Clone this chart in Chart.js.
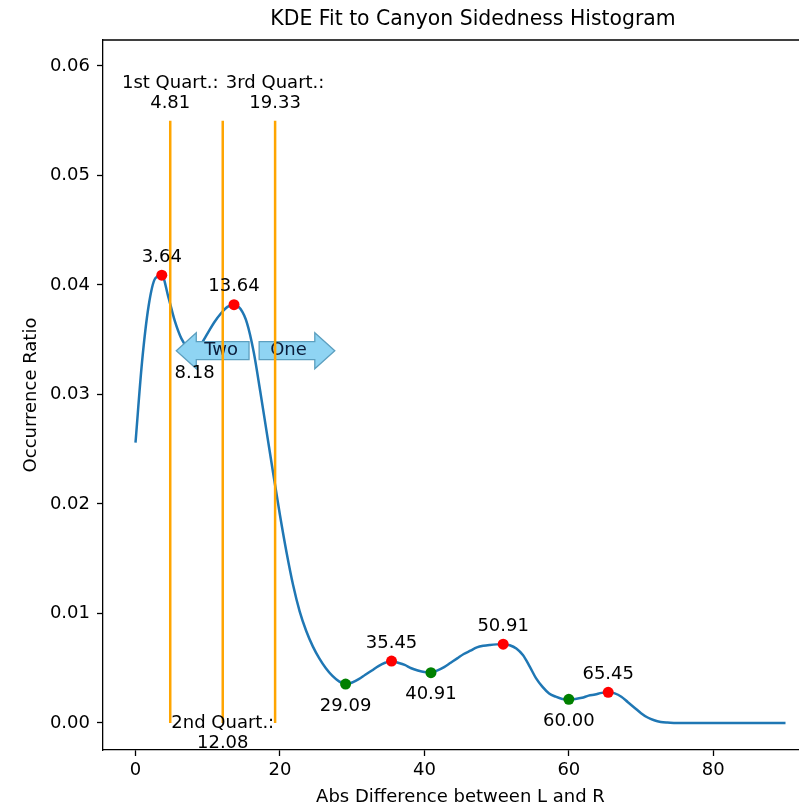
<!DOCTYPE html>
<html>
<head>
<meta charset="utf-8">
<script src="https://cdn.jsdelivr.net/npm/chart.js@4.4.0/dist/chart.umd.min.js"></script>
<style>
  html, body { margin: 0; padding: 0; background: #fff; overflow: hidden; }
  #wrap { width: 840px; height: 806px; }
</style>
</head>
<body>
<div id="wrap"><canvas id="c" width="840" height="806"></canvas></div>
<script>
// KDE curve sampled on a 100-point grid over 0..90
const curveX = [
  0.00, 0.91, 1.82, 2.73, 3.64, 4.55, 5.45, 6.36, 7.27, 8.18,
  9.09, 10.00, 10.91, 11.82, 12.73, 13.64, 14.55, 15.45, 16.36, 17.27,
  18.18, 19.09, 20.00, 20.91, 21.82, 22.73, 23.64, 24.55, 25.45, 26.36,
  27.27, 28.18, 29.09, 30.00, 30.91, 31.82, 32.73, 33.64, 34.55, 35.45,
  36.36, 37.27, 38.18, 39.09, 40.00, 40.91, 41.82, 42.73, 43.64, 44.55,
  45.45, 46.36, 47.27, 48.18, 49.09, 50.00, 50.91, 51.82, 52.73, 53.64,
  54.55, 55.45, 56.36, 57.27, 58.18, 59.09, 60.00, 60.91, 61.82, 62.73,
  63.64, 64.55, 65.45, 66.36, 67.27, 68.18, 69.09, 70.00, 70.91, 71.82,
  72.73, 73.64, 74.55, 75.45, 76.36, 77.27, 78.18, 79.09, 80.00, 80.91,
  81.82, 82.73, 83.64, 84.55, 85.45, 86.36, 87.27, 88.18, 89.09, 90.00
];
const curveY = [
  0.0256, 0.0330, 0.0381, 0.0406, 0.0409, 0.0389, 0.0367, 0.0351, 0.0342, 0.0339,
  0.0346, 0.0356, 0.0366, 0.0374, 0.0380, 0.0382, 0.0378, 0.0365, 0.0339, 0.0303,
  0.0265, 0.0227, 0.0190, 0.0156, 0.0126, 0.0102, 0.0084, 0.0070, 0.0059, 0.0050,
  0.0043, 0.0038, 0.00356, 0.0037, 0.0040, 0.0044, 0.0048, 0.0052, 0.0055, 0.00566,
  0.0055, 0.0053, 0.0050, 0.0048, 0.00465, 0.0046, 0.0048, 0.0051, 0.0055, 0.0059,
  0.0063, 0.0066, 0.0069, 0.00705, 0.00713, 0.00718, 0.0072, 0.0071, 0.0068, 0.0062,
  0.0052, 0.0041, 0.0033, 0.0027, 0.0024, 0.0022, 0.00216, 0.0022, 0.0023, 0.0025,
  0.0026, 0.00275, 0.0028, 0.0027, 0.0024, 0.0019, 0.0014, 0.0009, 0.0005, 0.00025,
  0.0001, 0.00004, 0.00001, 0, 0, 0, 0, 0, 0, 0,
  0, 0, 0, 0, 0, 0, 0, 0, 0, 0
];

// Local extrema of the curve
const peakX = [3.64, 13.64, 35.45, 50.91, 65.45];
const troughX = [8.18, 29.09, 40.91, 60.00];

// Quartiles of the sidedness distribution
const quartileX = [4.81, 12.08, 19.33];
const quartileNames = ['1st Quart.:', '2nd Quart.:', '3rd Quart.:'];
const quartileTop = 0.055;

// Axis ticks
const xTicks = [0, 20, 40, 60, 80];
const yTicks = [0.00, 0.01, 0.02, 0.03, 0.04, 0.05, 0.06];

// Direction callouts
const callouts = [
  { text: 'Two', x: 11.86, y: 0.0340, dir: 'left' },
  { text: 'One', x: 21.18, y: 0.0340, dir: 'right' }
];

const FONT = '"DejaVu Sans", "Liberation Sans", sans-serif';
const FS = 18;

function yAt(x) {
  let best = 0;
  for (let i = 1; i < curveX.length; i++) {
    if (Math.abs(curveX[i] - x) < Math.abs(curveX[best] - x)) best = i;
  }
  return curveY[best];
}

const curvePts = curveX.map((x, i) => ({ x: x, y: curveY[i] }));
const peakPts = peakX.map(x => ({ x: x, y: yAt(x) }));
const troughPts = troughX.map(x => ({ x: x, y: yAt(x) }));

const quartileSets = quartileX.map(q => ({
  type: 'line',
  data: [{ x: q, y: 0 }, { x: q, y: quartileTop }],
  borderColor: '#ffa500',
  borderWidth: 2.5,
  pointRadius: 0,
  order: 1
}));

function drawCallout(ctx, cx, cy, text, dir) {
  ctx.save();
  ctx.font = FS + 'px ' + FONT;
  const w = ctx.measureText(text).width;
  const tl = cx - w / 2, tr = cx + w / 2;
  const bh = 9, hh = 18, headLen = 20, headGap = 8, tailPad = 11;
  ctx.beginPath();
  if (dir === 'left') {
    const base = tl - headGap, tip = base - headLen, tail = tr + tailPad;
    ctx.moveTo(tip, cy);
    ctx.lineTo(base, cy - hh);
    ctx.lineTo(base, cy - bh);
    ctx.lineTo(tail, cy - bh);
    ctx.lineTo(tail, cy + bh);
    ctx.lineTo(base, cy + bh);
    ctx.lineTo(base, cy + hh);
  } else {
    const base = tr + headGap, tip = base + headLen, tail = tl - tailPad;
    ctx.moveTo(tip, cy);
    ctx.lineTo(base, cy - hh);
    ctx.lineTo(base, cy - bh);
    ctx.lineTo(tail, cy - bh);
    ctx.lineTo(tail, cy + bh);
    ctx.lineTo(base, cy + bh);
    ctx.lineTo(base, cy + hh);
  }
  ctx.closePath();
  ctx.fillStyle = '#8fd4f3';
  ctx.fill();
  ctx.lineWidth = 1.3;
  ctx.strokeStyle = '#5c9fbf';
  ctx.stroke();
  ctx.fillStyle = '#0b1d3a';
  ctx.textAlign = 'center';
  ctx.textBaseline = 'middle';
  ctx.fillText(text, cx, cy);
  ctx.restore();
}

const decor = {
  id: 'decor',
  afterDatasetDraw(chart, args) {
    // callouts cover the curve and markers; the quartile lines stay on top
    if (args.index !== 2) return;
    const ctx = chart.ctx, xs = chart.scales.x, ys = chart.scales.y;
    callouts.forEach(c => drawCallout(ctx, xs.getPixelForValue(c.x), ys.getPixelForValue(c.y), c.text, c.dir));
  },
  afterDatasetsDraw(chart) {
    const ctx = chart.ctx, xs = chart.scales.x, ys = chart.scales.y;
    ctx.save();
    ctx.font = FS + 'px ' + FONT;
    ctx.fillStyle = '#000';
    ctx.textAlign = 'center';
    ctx.textBaseline = 'middle';
    peakPts.forEach(p => {
      ctx.fillText(p.x.toFixed(2), xs.getPixelForValue(p.x), ys.getPixelForValue(p.y) - 18);
    });
    troughPts.forEach(p => {
      ctx.fillText(p.x.toFixed(2), xs.getPixelForValue(p.x), ys.getPixelForValue(p.y) + 22);
    });
    quartileX.forEach((q, i) => {
      const px = xs.getPixelForValue(q);
      if (i === 1) {
        const y0 = ys.getPixelForValue(0);
        ctx.fillText(quartileNames[i], px, y0);
        ctx.fillText(q.toFixed(2), px, y0 + 20);
      } else {
        const yt = ys.getPixelForValue(quartileTop);
        ctx.fillText(quartileNames[i], px, yt - 37.5);
        ctx.fillText(q.toFixed(2), px, yt - 17.5);
      }
    });
    ctx.restore();
  },
  afterDraw(chart) {
    const ctx = chart.ctx, a = chart.chartArea;
    ctx.save();
    ctx.strokeStyle = '#000';
    ctx.lineWidth = 1.3;
    ctx.beginPath();
    ctx.moveTo(a.left, a.top);
    ctx.lineTo(a.right, a.top);
    ctx.lineTo(a.right, a.bottom);
    ctx.stroke();
    ctx.fillStyle = '#000';
    ctx.textAlign = 'center';
    ctx.textBaseline = 'middle';
    ctx.font = '20.4px ' + FONT;
    ctx.fillText('KDE Fit to Canyon Sidedness Histogram', 473, 20);
    ctx.font = FS + 'px ' + FONT;
    ctx.fillText('Abs Difference between L and R', (a.left + a.right) / 2, 797);
    ctx.translate(31, (a.top + a.bottom) / 2);
    ctx.rotate(-Math.PI / 2);
    ctx.fillText('Occurrence Ratio', 0, 0);
    ctx.restore();
  }
};

new Chart(document.getElementById('c'), {
  type: 'line',
  data: {
    datasets: [
      {
        type: 'line',
        data: curvePts,
        borderColor: '#1f77b4',
        borderWidth: 2.5,
        pointRadius: 0,
        cubicInterpolationMode: 'monotone',
        order: 4
      },
      {
        type: 'scatter',
        data: peakPts,
        backgroundColor: '#ff0000',
        borderWidth: 0,
        pointRadius: 5.5,
        order: 3
      },
      {
        type: 'scatter',
        data: troughPts,
        backgroundColor: '#008000',
        borderWidth: 0,
        pointRadius: 5.5,
        order: 2
      },
      ...quartileSets
    ]
  },
  options: {
    responsive: false,
    animation: false,
    devicePixelRatio: 1,
    layout: { padding: { left: 0, top: 40, right: 22, bottom: 0 } },
    plugins: { legend: { display: false }, tooltip: { enabled: false }, title: { display: false } },
    scales: {
      x: {
        type: 'linear',
        min: -4.5,
        max: 94.5,
        afterFit(s) { s.height = 56; },
        afterBuildTicks(s) { s.ticks = xTicks.map(v => ({ value: v })); },
        grid: { drawOnChartArea: false, drawTicks: true, tickLength: 6, tickColor: '#000', tickWidth: 1.3 },
        border: { display: true, color: '#000', width: 1.3 },
        ticks: { color: '#000', padding: 4, maxRotation: 0, autoSkip: false, font: { family: FONT, size: FS }, callback: v => String(v) }
      },
      y: {
        type: 'linear',
        min: -0.002466,
        max: 0.062374,
        afterFit(s) { s.width = 103; },
        afterBuildTicks(s) { s.ticks = yTicks.map(v => ({ value: v })); },
        grid: { drawOnChartArea: false, drawTicks: true, tickLength: 6, tickColor: '#000', tickWidth: 1.3 },
        border: { display: true, color: '#000', width: 1.3 },
        ticks: { color: '#000', padding: 7, autoSkip: false, font: { family: FONT, size: FS }, callback: v => v.toFixed(2) }
      }
    }
  },
  plugins: [decor]
});
</script>
</body>
</html>
